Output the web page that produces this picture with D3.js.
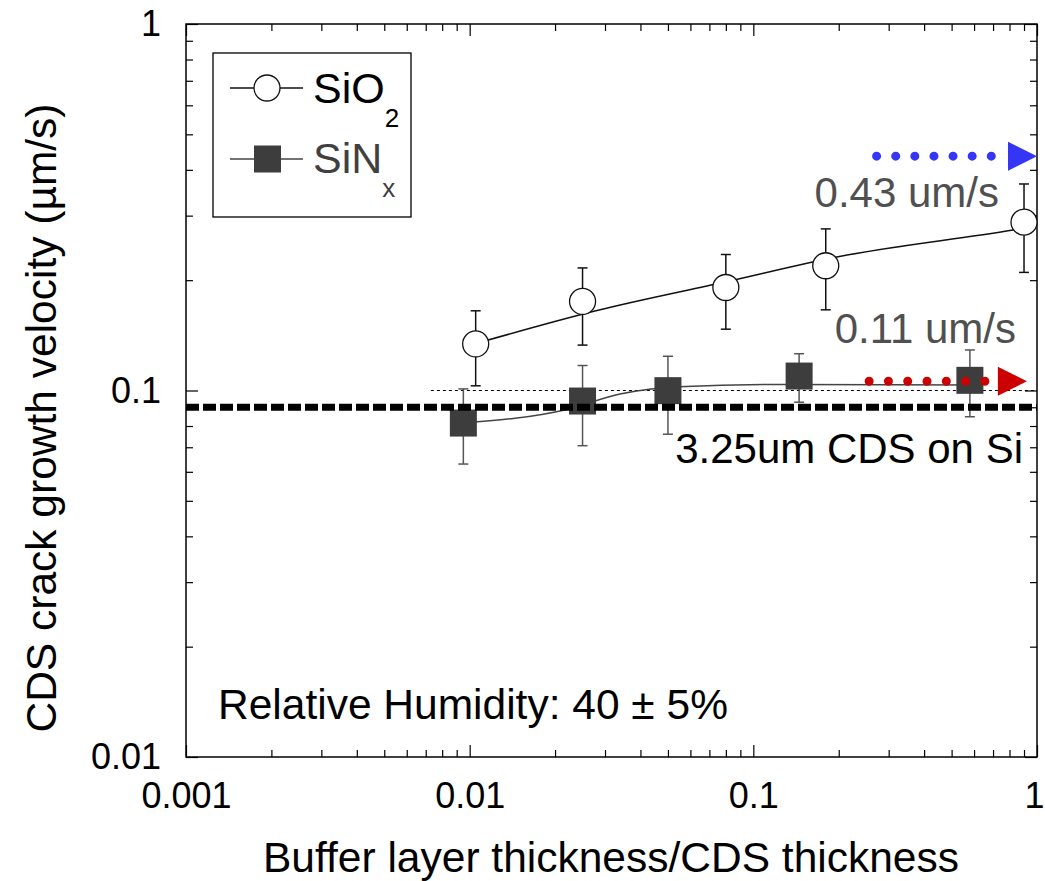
<!DOCTYPE html>
<head>
<meta charset="utf-8">
<script src="https://d3js.org/d3.v7.min.js"></script>
<title>CDS crack growth velocity</title>
<style>
  body { margin: 0; background: #fff; }
  text { font-family: "Liberation Sans", Arial, sans-serif; }
</style>
</head>
<body>
<div id="graph_container"></div>
<script>
// data
const xTicks = [0.001, 0.01, 0.1, 1];
const xTickLabels = ['0.001', '0.01', '0.1', '1'];
const yTicks = [0.01, 0.1, 1];
const yTickLabels = ['0.01', '0.1', '1'];

const sio2X  = [0.0105, 0.025, 0.08, 0.18, 0.9];
const sio2Y  = [0.134, 0.175, 0.191, 0.219, 0.288];
const sio2Hi = [0.165, 0.216, 0.235, 0.276, 0.366];
const sio2Lo = [0.103, 0.133, 0.147, 0.166, 0.210];

const sinxX  = [0.0095, 0.025, 0.05, 0.145, 0.58];
const sinxY  = [0.0815, 0.0936, 0.0999, 0.1095, 0.1066];
const sinxHi = [0.101, 0.117, 0.124, 0.126, 0.129];
const sinxLo = [0.063, 0.0707, 0.076, 0.0929, 0.0848];

// smoothed trend lines, as drawn in the picture
const sio2FitX = [0.0105, 0.0281, 0.0795, 0.199, 0.823, 0.9];
const sio2FitY = [0.1343, 0.1653, 0.1977, 0.2317, 0.2741, 0.2773];
const sinxFitX = [0.0095, 0.022, 0.0339, 0.0547, 0.1303, 0.58];
const sinxFitY = [0.0815, 0.0888, 0.0978, 0.1024, 0.1039, 0.1035];

const siRef = 0.09;           // 3.25um CDS on Si
const guideY = 0.1;           // thin dotted line
const guideX = [0.0073, 1];
const blueArrow = [0.272, 0.69, 1.0, 0.436];   // dots from, dots to, tip, y
const redArrow  = [0.256, 0.655, 0.921, 0.106];

let svg = d3.select('#graph_container').append('svg')
    .attr('width', 1045).attr('height', 881)

let x = d3.scaleLog().domain([0.001, 1]).range([186, 1037])
let y = d3.scaleLog().domain([0.01, 1]).range([757, 24])

function minors(lo, hi) {
    let out = []
    for (let d = lo; d < hi; d *= 10)
        for (let k = 2; k <= 9; k++) out.push(d * k)
    return out
}
let xMinor = minors(0.001, 1)
let yMinor = minors(0.01, 1)

// frame
svg.append('rect')
    .attr('x', 186).attr('y', 24).attr('width', 851).attr('height', 733)
    .style('fill', 'none').style('stroke', '#000').style('stroke-width', 1.5)

function styleAxis(g) {
    g.select('.domain').remove()
    g.selectAll('line').style('stroke', '#000').style('stroke-width', 1.2)
    g.selectAll('text').style('font-size', '36px').style('fill', '#000')
        .style('font-family', '"Liberation Sans", Arial, sans-serif')
}

let xAx = svg.append('g').attr('transform', 'translate(0,757)')
    .call(d3.axisBottom(x).tickValues(xTicks).tickFormat((d, i) => xTickLabels[i])
        .tickSize(-12).tickPadding(25))
    .call(styleAxis)
// keep the last label inside the page
xAx.selectAll('text').filter(d => d === 1).attr('dx', -3)
svg.append('g').attr('transform', 'translate(0,757)')
    .call(d3.axisBottom(x).tickValues(xMinor).tickFormat('').tickSize(-7))
    .call(styleAxis)
svg.append('g').attr('transform', 'translate(0,24)')
    .call(d3.axisTop(x).tickValues(xTicks).tickFormat('').tickSize(-12))
    .call(styleAxis)
svg.append('g').attr('transform', 'translate(0,24)')
    .call(d3.axisTop(x).tickValues(xMinor).tickFormat('').tickSize(-7))
    .call(styleAxis)

svg.append('g').attr('transform', 'translate(186,0)')
    .call(d3.axisLeft(y).tickValues(yTicks).tickFormat((d, i) => yTickLabels[i])
        .tickSize(-12).tickPadding(25))
    .call(styleAxis)
svg.append('g').attr('transform', 'translate(186,0)')
    .call(d3.axisLeft(y).tickValues(yMinor).tickFormat('').tickSize(-7))
    .call(styleAxis)
svg.append('g').attr('transform', 'translate(1037,0)')
    .call(d3.axisRight(y).tickValues(yTicks).tickFormat('').tickSize(-12))
    .call(styleAxis)
svg.append('g').attr('transform', 'translate(1037,0)')
    .call(d3.axisRight(y).tickValues(yMinor).tickFormat('').tickSize(-7))
    .call(styleAxis)

// axis titles
svg.append('text')
    .attr('x', 611).attr('y', 872)
    .style('text-anchor', 'middle').style('font-size', '42.5px')
    .text('Buffer layer thickness/CDS thickness')
svg.append('text')
    .attr('transform', 'translate(56,418) rotate(-90)')
    .style('text-anchor', 'middle').style('font-size', '42.5px')
    .text('CDS crack growth velocity (µm/s)')

// thin dotted guide at 0.1
svg.append('line')
    .attr('x1', x(guideX[0])).attr('x2', x(guideX[1]))
    .attr('y1', y(guideY)).attr('y2', y(guideY))
    .style('stroke', '#000').style('stroke-width', 1).style('stroke-dasharray', '3,3')

function series(xs, ys, his, los, fx, fy, color, lineColor) {
    let pts = xs.map((v, i) => ({x: v, y: ys[i], hi: his[i], lo: los[i]}))
    let fit = fx.map((v, i) => ({x: v, y: fy[i]}))
    let g = svg.append('g')
    let bars = g.selectAll('g.err').data(pts).enter().append('g')
    bars.append('line')
        .attr('x1', d => x(d.x)).attr('x2', d => x(d.x))
        .attr('y1', d => y(d.hi)).attr('y2', d => y(d.lo))
    bars.append('line')
        .attr('x1', d => x(d.x) - 5).attr('x2', d => x(d.x) + 5)
        .attr('y1', d => y(d.hi)).attr('y2', d => y(d.hi))
    bars.append('line')
        .attr('x1', d => x(d.x) - 5).attr('x2', d => x(d.x) + 5)
        .attr('y1', d => y(d.lo)).attr('y2', d => y(d.lo))
    bars.selectAll('line').style('stroke', color).style('stroke-width', 1.5)

    let line = d3.line().x(d => x(d.x)).y(d => y(d.y)).curve(d3.curveMonotoneX)
    g.append('path').datum(fit).attr('d', line)
        .style('fill', 'none').style('stroke', lineColor).style('stroke-width', 1.5)
    return {g: g, pts: pts}
}

let s1 = series(sio2X, sio2Y, sio2Hi, sio2Lo, sio2FitX, sio2FitY, '#111', '#111')
s1.g.selectAll('circle').data(s1.pts).enter().append('circle')
    .attr('cx', d => x(d.x)).attr('cy', d => y(d.y)).attr('r', 13)
    .style('fill', '#fff').style('stroke', '#111').style('stroke-width', 1.3)

let s2 = series(sinxX, sinxY, sinxHi, sinxLo, sinxFitX, sinxFitY, '#555', '#444')
s2.g.selectAll('rect').data(s2.pts).enter().append('rect')
    .attr('x', d => x(d.x) - 13.5).attr('y', d => y(d.y) - 13.5)
    .attr('width', 27).attr('height', 27)
    .style('fill', '#3d3d3d')

// thick dashed reference line for CDS on Si
svg.append('line')
    .attr('x1', x(0.001)).attr('x2', x(1))
    .attr('y1', y(siRef)).attr('y2', y(siRef))
    .style('stroke', '#000').style('stroke-width', 7).style('stroke-dasharray', '13,4')

// dotted arrows
function arrow(a, color, r) {
    let yy = y(a[3])
    svg.append('line')
        .attr('x1', x(a[0])).attr('x2', x(a[1]))
        .attr('y1', yy).attr('y2', yy)
        .style('stroke', color).style('stroke-width', r * 2)
        .style('stroke-linecap', 'round')
        .style('stroke-dasharray', '0,' + ((x(a[1]) - x(a[0])) / 6))
    let tip = x(a[2])
    svg.append('path')
        .attr('d', `M${tip},${yy} L${tip - 29},${yy - 14.5} L${tip - 29},${yy + 14.5} Z`)
        .style('fill', color)
}
arrow(blueArrow, '#3535f5', 4.5)
arrow(redArrow, '#cc0000', 4.5)

// annotations
svg.append('text').attr('x', 999).attr('y', 207)
    .style('text-anchor', 'end').style('font-size', '42px').style('fill', '#505050')
    .text('0.43 um/s')
svg.append('text').attr('x', 1016).attr('y', 343)
    .style('text-anchor', 'end').style('font-size', '42px').style('fill', '#505050')
    .text('0.11 um/s')
svg.append('text').attr('x', 1023).attr('y', 463)
    .style('text-anchor', 'end').style('font-size', '42px').style('fill', '#000')
    .text('3.25um CDS on Si')
svg.append('text').attr('x', 218).attr('y', 719)
    .style('font-size', '42.5px').style('fill', '#000')
    .text('Relative Humidity: 40 ± 5%')

// legend
let lg = svg.append('g')
lg.append('rect').attr('x', 213).attr('y', 53).attr('width', 198).attr('height', 164)
    .style('fill', '#fff').style('stroke', '#000').style('stroke-width', 1.3)
lg.append('line').attr('x1', 230).attr('x2', 303).attr('y1', 88).attr('y2', 88)
    .style('stroke', '#111').style('stroke-width', 1.3)
lg.append('circle').attr('cx', 267).attr('cy', 88).attr('r', 13)
    .style('fill', '#fff').style('stroke', '#111').style('stroke-width', 1.3)
lg.append('line').attr('x1', 230).attr('x2', 303).attr('y1', 159).attr('y2', 159)
    .style('stroke', '#444').style('stroke-width', 1.3)
lg.append('rect').attr('x', 254).attr('y', 145.5).attr('width', 27).attr('height', 27)
    .style('fill', '#3d3d3d')
let t1 = lg.append('text').attr('x', 313).attr('y', 103).style('font-size', '43px').style('fill', '#000')
t1.append('tspan').text('SiO')
t1.append('tspan').attr('dy', 24).style('font-size', '26px').text('2')
let t2 = lg.append('text').attr('x', 313).attr('y', 173).style('font-size', '43px').style('fill', '#404040')
t2.append('tspan').text('SiN')
t2.append('tspan').attr('dy', 24).style('font-size', '26px').text('x')
</script>
</body>
